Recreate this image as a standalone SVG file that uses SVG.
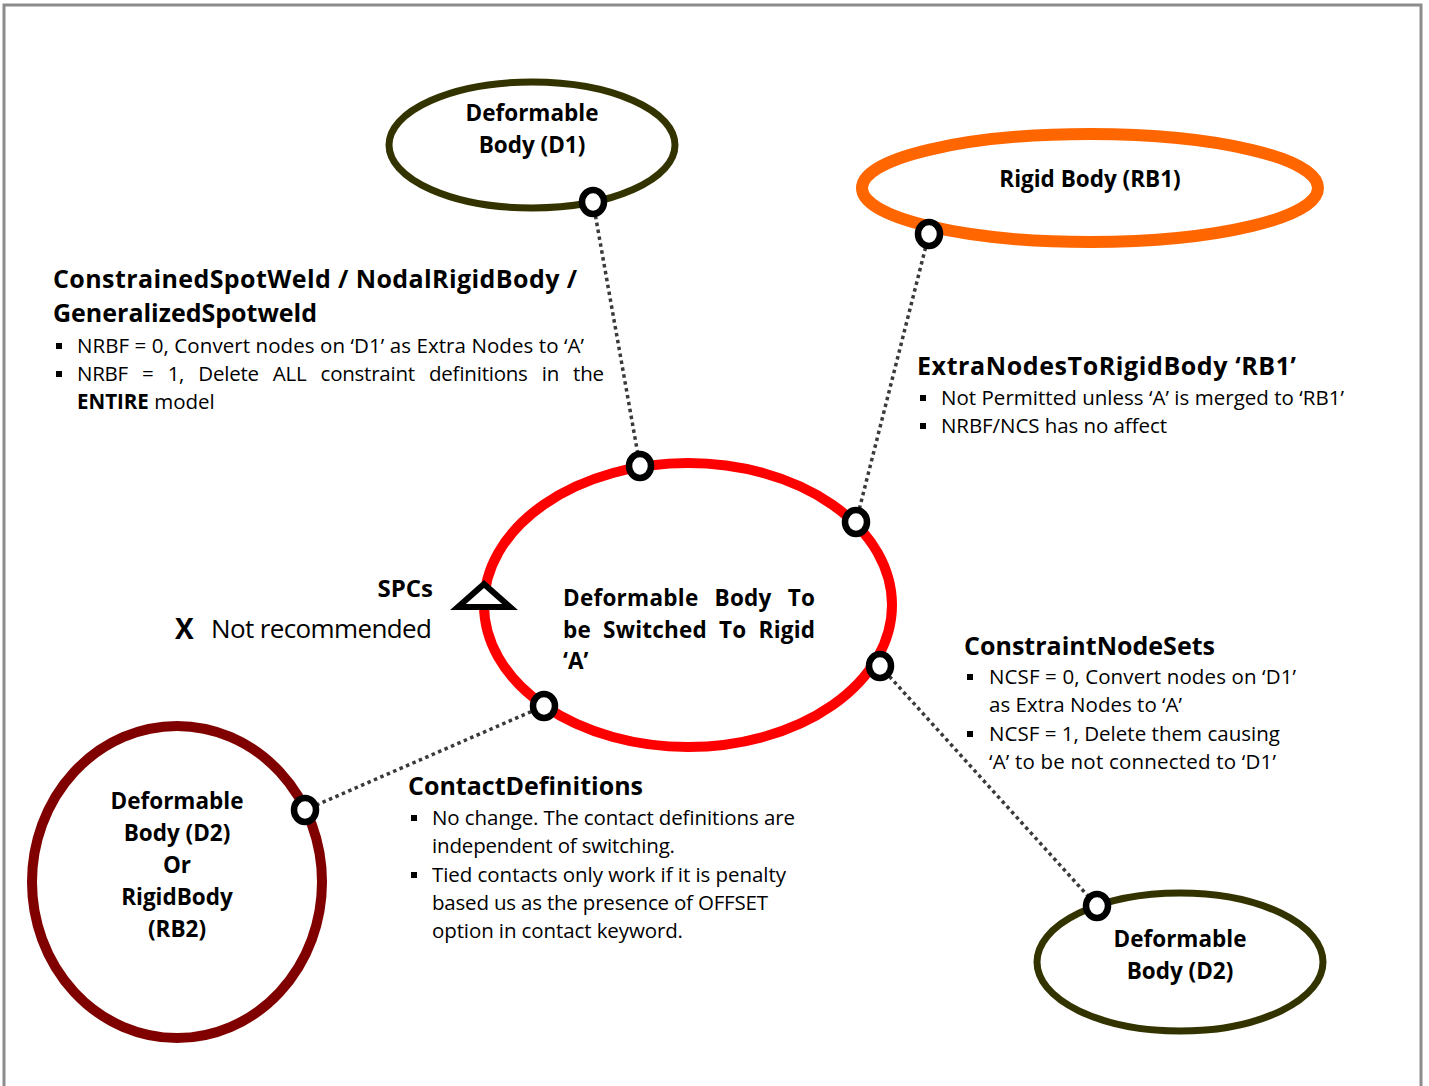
<svg xmlns="http://www.w3.org/2000/svg" width="1429" height="1086" viewBox="0 0 1429 1086">
<style>
  .frame { fill: #ffffff; stroke: #8c8c8c; stroke-width: 3; }
  .lbl { font-family: "Open Sans", "Liberation Sans", sans-serif; font-weight: bold; font-size: 22.5px; fill: #000; text-anchor: middle; }
  .lblj { font-family: "Open Sans", "Liberation Sans", sans-serif; font-weight: bold; font-size: 22.5px; fill: #000; }
  .hd { font-family: "Open Sans", "Liberation Sans", sans-serif; font-weight: bold; font-size: 25px; fill: #000; }
  .tx { font-family: "Open Sans", "Liberation Sans", sans-serif; font-size: 20.5px; fill: #000; }
  .txb { font-weight: bold; }
  .olive { fill: #fff; stroke: #333300; stroke-width: 7; }
  .port { fill: #fff; stroke: #000; stroke-width: 6.5; }
  .link { fill: none; stroke: #3a3a3a; stroke-width: 3.5; stroke-dasharray: 3.5 3.5; }
  .bul { fill: #000; }
</style>
<rect class="frame" x="4" y="5" width="1417" height="1100"/>

<g id="connectors">
  <line class="link" x1="593" y1="202" x2="640" y2="466"/>
  <line class="link" x1="929" y1="234" x2="856" y2="522"/>
  <line class="link" x1="880" y1="666" x2="1097" y2="906"/>
  <line class="link" x1="544" y1="706" x2="305" y2="810"/>
</g>

<g id="node-d1">
  <ellipse class="olive" cx="532" cy="145" rx="143" ry="63"/>
  <text class="lbl" x="532" y="121">Deformable</text>
  <text class="lbl" x="532" y="153">Body (D1)</text>
</g>

<g id="node-rb1">
  <ellipse cx="1090" cy="188" rx="228" ry="54" fill="#fff" stroke="#ff6600" stroke-width="12"/>
  <text class="lbl" x="1090" y="187">Rigid Body (RB1)</text>
</g>

<g id="node-a">
  <ellipse cx="688" cy="605" rx="204" ry="142" fill="#fff" stroke="#ff0000" stroke-width="10"/>
  <text class="lblj" x="563" y="606" style="word-spacing:10px" textLength="252">Deformable Body To</text>
  <text class="lblj" x="563" y="638" style="word-spacing:6px" textLength="252">be Switched To Rigid</text>
  <text class="lblj" x="563" y="669">‘A’</text>
</g>

<g id="node-d2-left">
  <ellipse cx="177" cy="882" rx="145" ry="156" fill="#fff" stroke="#800000" stroke-width="10"/>
  <text class="lbl" x="177" y="809">Deformable</text>
  <text class="lbl" x="177" y="841">Body (D2)</text>
  <text class="lbl" x="177" y="873">Or</text>
  <text class="lbl" x="177" y="905">RigidBody</text>
  <text class="lbl" x="177" y="937">(RB2)</text>
</g>

<g id="node-d2-right">
  <ellipse class="olive" cx="1180" cy="962" rx="143" ry="69"/>
  <text class="lbl" x="1180" y="947">Deformable</text>
  <text class="lbl" x="1180" y="979">Body (D2)</text>
</g>

<g id="ports">
  <ellipse class="port" cx="593" cy="202" rx="11" ry="12"/>
  <ellipse class="port" cx="929" cy="234" rx="11" ry="12"/>
  <ellipse class="port" cx="640" cy="466" rx="11" ry="12"/>
  <ellipse class="port" cx="856" cy="522" rx="11" ry="12"/>
  <ellipse class="port" cx="880" cy="666" rx="11" ry="12"/>
  <ellipse class="port" cx="544" cy="706" rx="11" ry="12"/>
  <ellipse class="port" cx="305" cy="810" rx="11" ry="12"/>
  <ellipse class="port" cx="1097" cy="906" rx="11" ry="12"/>
</g>

<g id="spcs">
  <polygon points="484,584 458,607 510,607" fill="#fff" stroke="#000" stroke-width="6" stroke-linejoin="miter"/>
  <text class="hd" x="433" y="597" text-anchor="end" style="font-size:24px">SPCs</text>
  <text class="hd" x="175" y="639" style="font-size:28px">X</text>
  <text class="tx" x="211" y="638" style="font-size:26px" textLength="221">Not recommended</text>
</g>

<g id="label-spotweld">
  <text class="hd" x="53" y="288" textLength="524">ConstrainedSpotWeld / NodalRigidBody /</text>
  <text class="hd" x="53" y="322" textLength="264">GeneralizedSpotweld</text>
  <rect class="bul" x="56" y="343" width="6" height="6"/>
  <text class="tx" x="77" y="353" textLength="507">NRBF = 0, Convert nodes on ‘D1’ as Extra Nodes to ‘A’</text>
  <rect class="bul" x="56" y="371" width="6" height="6"/>
  <text class="tx" x="77" y="381" style="word-spacing:9px" textLength="527">NRBF = 1, Delete ALL constraint definitions in the</text>
  <text class="tx" x="77" y="409"><tspan class="txb">ENTIRE</tspan> model</text>
</g>

<g id="label-extranodes">
  <text class="hd" x="917" y="375" textLength="379">ExtraNodesToRigidBody ‘RB1’</text>
  <rect class="bul" x="920" y="395" width="6" height="6"/>
  <text class="tx" x="941" y="405" textLength="403">Not Permitted unless ‘A’ is merged to ‘RB1’</text>
  <rect class="bul" x="920" y="423" width="6" height="6"/>
  <text class="tx" x="941" y="433" textLength="226">NRBF/NCS has no affect</text>
</g>

<g id="label-cns">
  <text class="hd" x="964" y="655" textLength="251">ConstraintNodeSets</text>
  <rect class="bul" x="967" y="674" width="6" height="6"/>
  <text class="tx" x="989" y="684" textLength="307">NCSF = 0, Convert nodes on ‘D1’</text>
  <text class="tx" x="989" y="712" textLength="193">as Extra Nodes to ‘A’</text>
  <rect class="bul" x="967" y="731" width="6" height="6"/>
  <text class="tx" x="989" y="741" textLength="291">NCSF = 1, Delete them causing</text>
  <text class="tx" x="989" y="769" textLength="287">‘A’ to be not connected to ‘D1’</text>
</g>

<g id="label-contact">
  <text class="hd" x="408" y="795" textLength="235">ContactDefinitions</text>
  <rect class="bul" x="411" y="815" width="6" height="6"/>
  <text class="tx" x="432" y="825" textLength="363">No change. The contact definitions are</text>
  <text class="tx" x="432" y="853" textLength="243">independent of switching.</text>
  <rect class="bul" x="411" y="872" width="6" height="6"/>
  <text class="tx" x="432" y="882" textLength="354">Tied contacts only work if it is penalty</text>
  <text class="tx" x="432" y="910" textLength="336">based us as the presence of OFFSET</text>
  <text class="tx" x="432" y="938" textLength="251">option in contact keyword.</text>
</g>
</svg>
